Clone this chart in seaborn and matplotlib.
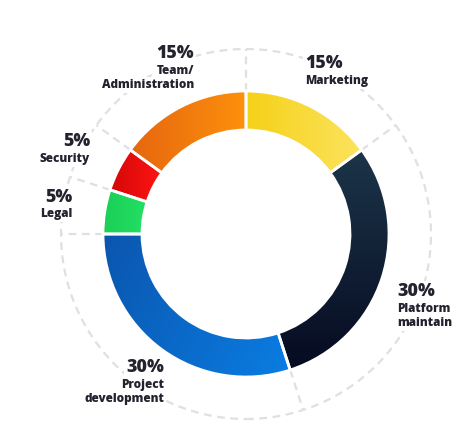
import matplotlib
matplotlib.use("Agg")
import matplotlib.pyplot as plt
from matplotlib.colors import LinearSegmentedColormap
from matplotlib.patches import Circle
import numpy as np
import seaborn as sns

# data
categories = ["Marketing", "Platform\nmaintain", "Project\ndevelopment",
              "Legal", "Security", "Team/\nAdministration"]
shares = [15, 30, 30, 5, 5, 15]

# gradient colours for each slice (start -> end) and gradient direction
grad_start = ["#f5d118", "#1c3549", "#0a56ae", "#1ccf57", "#d40808", "#e6660f"]
grad_end = ["#fce35f", "#060b21", "#0b7de3", "#22e063", "#ff1414", "#fd900c"]
grad_angle = [0, -90, -25, 0, 0, 0]

# label anchors in pixels (x edge, y of percent line, alignment)
label_pos = [(305, 64, "left"), (397, 292, "left"), (164, 368, "right"),
             (72, 197, "right"), (90, 142, "right"), (194, 54, "right")]

W, H = 467, 445
CX, CY = 246, 234
R_OUT, RING, R_DASH = 143, 39, 185
TXT = "#23232f"
DASH = "#e0e0e0"

sns.set_theme(style="white")
plt.rcParams["font.family"] = ["Open Sans", "DejaVu Sans"]

fig = plt.figure(figsize=(W / 100, H / 100), dpi=100)
ax = fig.add_axes([0, 0, 1, 1])

wedges, _ = ax.pie(shares, radius=R_OUT, startangle=90, counterclock=False,
                   wedgeprops=dict(width=RING, facecolor="none",
                                   edgecolor="white", linewidth=2, zorder=3))

# gradient fill, clipped to each wedge
for w, c0, c1, ang in zip(wedges, grad_start, grad_end, grad_angle):
    ext = w.get_path().get_extents()
    X, Y = np.meshgrid(np.linspace(ext.x0, ext.x1, 200),
                       np.linspace(ext.y0, ext.y1, 200))
    a = np.deg2rad(ang)
    t = X * np.cos(a) + Y * np.sin(a)
    t = (t - t.min()) / (t.max() - t.min())
    cmap = LinearSegmentedColormap.from_list("g", [c0, c1])
    im = ax.imshow(t, extent=(ext.x0, ext.x1, ext.y0, ext.y1), origin="lower",
                   cmap=cmap, interpolation="bilinear", zorder=2)
    im.set_clip_path(w)

# dashed guide circle and radial lines at slice boundaries
ax.add_patch(Circle((0, 0), R_DASH, fill=False, ec=DASH, lw=1.6,
                    ls=(0, (3.5, 2.5)), zorder=1))
cum = np.concatenate([[0], np.cumsum(shares)[:-1]])
for c in cum:
    th = np.deg2rad(90 - 360 * c / sum(shares))
    ax.plot([R_OUT * np.cos(th), R_DASH * np.cos(th)],
            [R_OUT * np.sin(th), R_DASH * np.sin(th)],
            color=DASH, lw=1.6, ls=(0, (3.5, 2.5)), zorder=1)

# labels
box = dict(facecolor="white", edgecolor="none", pad=1.5)
for name, v, (px, py, ha) in zip(categories, shares, label_pos):
    ax.text(px - CX, CY - py, f"{v}%", ha=ha, va="center", fontsize=12.8,
            fontweight=800, color=TXT, bbox=box, zorder=4)
    for i, line in enumerate(name.split("\n")):
        ax.text(px - CX, CY - (py + 17 + 14 * i), line, ha=ha, va="center",
                fontsize=8.5, fontweight=800, color=TXT, bbox=box, zorder=4)

ax.set_xlim(-CX, W - CX)
ax.set_ylim(-(H - CY), CY)
ax.set_aspect("equal")
ax.axis("off")

fig.savefig("out.png", dpi=100, facecolor="white")
